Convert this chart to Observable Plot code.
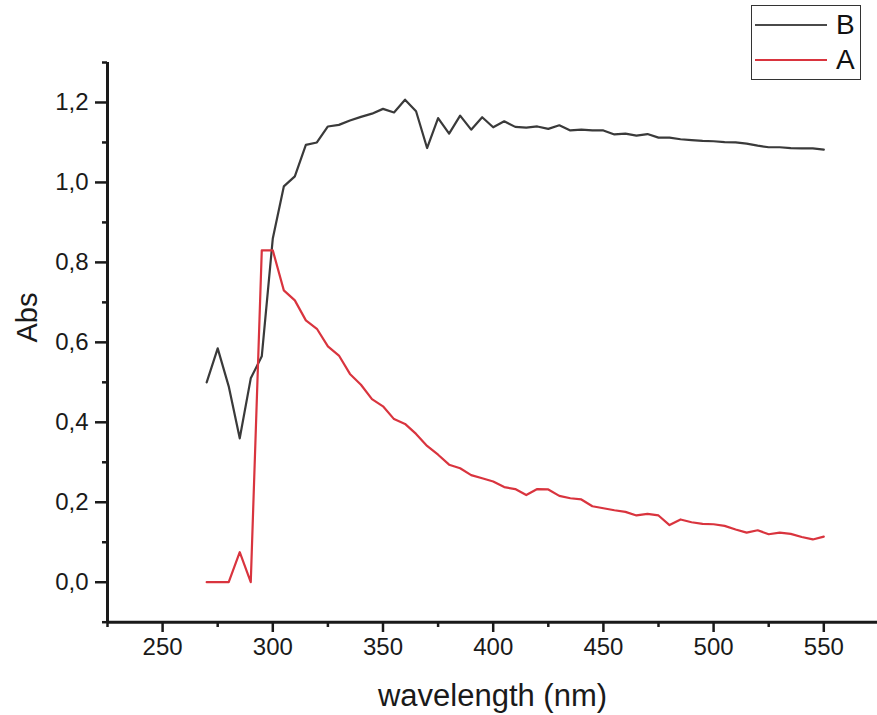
<!DOCTYPE html>
<html>
<head>
<meta charset="utf-8">
<script src="https://cdn.jsdelivr.net/npm/d3@7"></script>
<script src="https://cdn.jsdelivr.net/npm/@observablehq/plot@0.6"></script>
<style>
  body { margin: 0; background: #fff; }
  #wrap { position: relative; width: 877px; height: 715px; overflow: hidden; }
  #legend { position: absolute; left: 751px; top: 5px; width: 110px; height: 75px;
            border: 1.5px solid #333; box-sizing: border-box; background: #fff;
            font-family: "Liberation Sans", Arial, sans-serif; }
  .lg-line { position: absolute; left: 3px; width: 72px; height: 2px; }
  .lg-text { position: absolute; left: 84px; font-size: 28px; line-height: 28px; color: #111; }
</style>
</head>
<body>
<div id="wrap">
  <div id="chart"></div>
  <div id="legend">
    <div class="lg-line" style="top:18px;background:#4a4a4a"></div>
    <div class="lg-text" style="top:5px">B</div>
    <div class="lg-line" style="top:53px;background:#d9343e"></div>
    <div class="lg-text" style="top:40px">A</div>
  </div>
</div>
<script>
// wavelength grid (nm)
const wavelength = [270,275,280,285,290,295,300,305,310,315,320,325,330,335,340,345,350,355,360,365,
  370,375,380,385,390,395,400,405,410,415,420,425,430,435,440,445,450,455,460,465,
  470,475,480,485,490,495,500,505,510,515,520,525,530,535,540,545,550];

// series B (black)
const seriesB = [0.50,0.585,0.49,0.36,0.51,0.565,0.86,0.99,1.015,1.094,1.10,1.14,1.144,1.155,1.164,1.172,1.184,1.175,1.207,1.178,
  1.086,1.161,1.122,1.167,1.132,1.163,1.138,1.153,1.139,1.137,1.14,1.134,1.143,1.130,1.132,1.130,1.130,1.120,1.122,1.117,
  1.121,1.112,1.112,1.108,1.106,1.104,1.103,1.101,1.100,1.097,1.092,1.088,1.088,1.086,1.085,1.085,1.082];

// series A (red)
const seriesA = [0.0,0.0,0.0,0.075,0.0,0.83,0.83,0.73,0.705,0.655,0.634,0.59,0.567,0.521,0.494,0.458,0.44,0.408,0.396,0.371,
  0.341,0.319,0.294,0.285,0.268,0.26,0.252,0.238,0.233,0.218,0.233,0.232,0.216,0.21,0.207,0.19,0.185,0.18,0.176,0.167,
  0.171,0.167,0.143,0.157,0.150,0.146,0.145,0.141,0.132,0.124,0.130,0.120,0.124,0.121,0.113,0.107,0.114];

// ticks
const xTicks = [250,300,350,400,450,500,550];
const xMinor = [225,275,325,375,425,475,525,575];
const yTicks = [0,0.2,0.4,0.6,0.8,1.0,1.2];
const yMinor = [-0.1,0.1,0.3,0.5,0.7,0.9,1.1,1.3];

const dataB = wavelength.map((w, i) => ({w, v: seriesB[i]}));
const dataA = wavelength.map((w, i) => ({w, v: seriesA[i]}));

const font = '"Liberation Sans", Arial, sans-serif';
const ink = "#1a1a1a";

const chart = Plot.plot({
  width: 877,
  height: 715,
  marginLeft: 107,
  marginRight: 0,
  marginTop: 62,
  marginBottom: 93,
  x: {domain: [225, 575], range: [107, 878.4]},
  y: {domain: [-0.1, 1.3], range: [621.7, 62]},
  style: {fontFamily: font, background: "#fff", color: ink},
  marks: [
    Plot.lineY(dataB, {x: "w", y: "v", stroke: "#3a3a3a", strokeWidth: 2.2}),
    Plot.lineY(dataA, {x: "w", y: "v", stroke: "#d9343e", strokeWidth: 2.2}),
    Plot.axisX({anchor: "bottom", ticks: xTicks, tickSize: 10, tickPadding: 5, strokeWidth: 2.5,
                fontSize: 24, tickFormat: d => String(d), label: null, stroke: ink, fill: ink}),
    Plot.axisX({anchor: "bottom", ticks: xMinor, tickSize: 5, strokeWidth: 2.5,
                tickFormat: () => "", label: null, stroke: ink}),
    Plot.axisY({anchor: "left", ticks: yTicks, tickSize: 12, tickPadding: 7, strokeWidth: 2.5,
                fontSize: 24, tickFormat: d => d.toFixed(1).replace(".", ","), label: null, stroke: ink, fill: ink}),
    Plot.axisY({anchor: "left", ticks: yMinor, tickSize: 5, strokeWidth: 2.5,
                tickFormat: () => "", label: null, stroke: ink}),
    Plot.ruleX([225], {y1: -0.1, y2: 1.3, stroke: ink, strokeWidth: 3}),
    Plot.ruleY([-0.1], {stroke: ink, strokeWidth: 3}),
    Plot.text(["wavelength (nm)"], {frameAnchor: "bottom", lineAnchor: "bottom", dy: 83,
                fontSize: 31, fill: ink, text: d => d}),
    Plot.text(["Abs"], {frameAnchor: "left", rotate: -90, dx: -80, lineAnchor: "middle",
                fontSize: 29, fill: ink, text: d => d})
  ]
});
document.getElementById("chart").appendChild(chart);
</script>
</body>
</html>
